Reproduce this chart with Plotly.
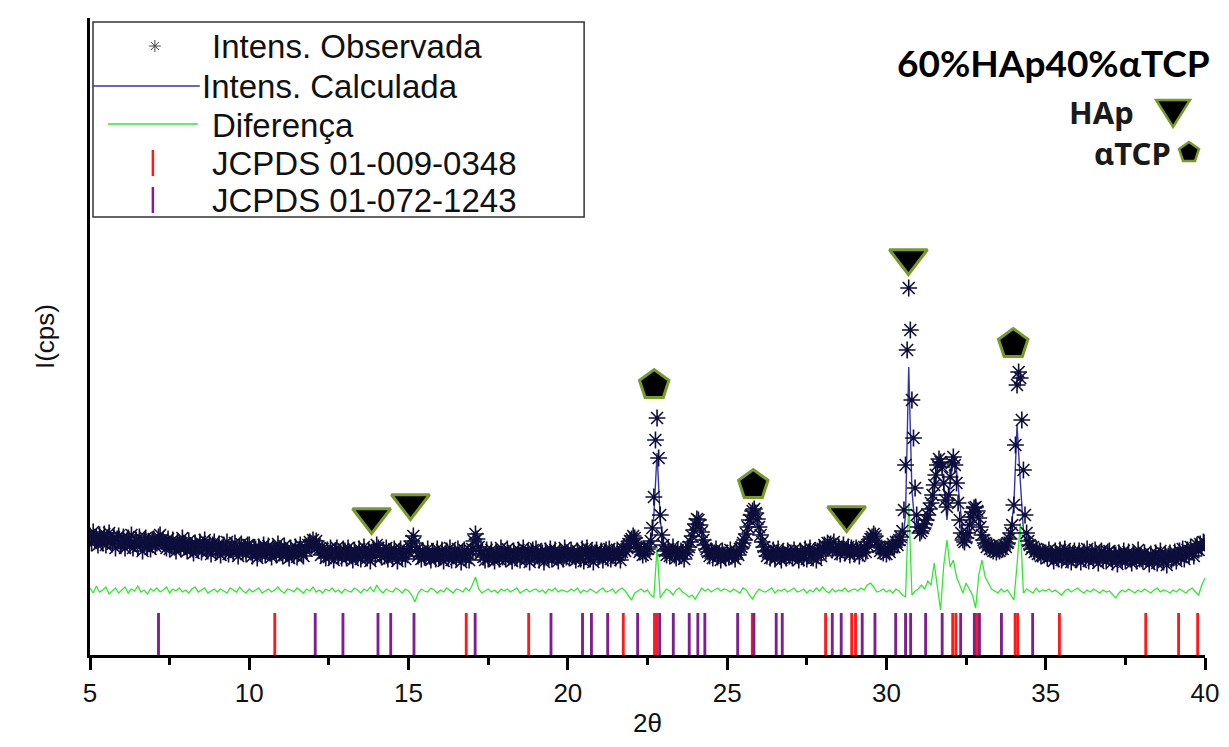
import numpy as np
import plotly.graph_objects as go

# observed intensity, 2theta = 5.00 .. 40.00 step 0.05 (one line per degree)
obs_intensity = [
    119, 112, 123, 114, 118, 110, 120, 116, 112, 121, 110, 117, 122, 114, 111, 118, 107, 116, 119, 111,
    111, 118, 107, 114, 117, 110, 120, 107, 112, 115, 108, 118, 111, 104, 114, 117, 108, 113, 106, 115,
    116, 109, 112, 118, 120, 114, 113, 111, 107, 116, 106, 110, 115, 108, 104, 113, 111, 106, 117, 108,
    111, 104, 114, 106, 109, 102, 112, 108, 105, 113, 103, 110, 115, 107, 104, 111, 101, 110, 113, 105,
    104, 111, 100, 107, 110, 103, 113, 101, 106, 109, 102, 112, 105, 99, 108, 111, 103, 107, 101, 110,
    110, 103, 99, 107, 106, 97, 108, 105, 101, 110, 100, 104, 109, 102, 98, 107, 105, 100, 111, 102,
    106, 99, 109, 101, 104, 97, 107, 103, 100, 108, 98, 105, 110, 102, 99, 108, 104, 110, 113, 109,
    115, 111, 114, 108, 106, 100, 106, 102, 97, 105, 98, 107, 101, 95, 104, 107, 99, 103, 97, 106,
    104, 97, 107, 99, 102, 95, 105, 101, 98, 106, 96, 103, 108, 100, 97, 104, 94, 103, 106, 98,
    110, 107, 104, 98, 105, 99, 107, 96, 101, 104, 97, 106, 100, 94, 103, 106, 98, 102, 96, 104,
    103, 108, 114, 119, 112, 105, 99, 103, 96, 104, 98, 101, 106, 99, 95, 103, 101, 96, 106, 98,
    98, 105, 94, 101, 104, 97, 107, 95, 100, 103, 96, 106, 99, 93, 102, 105, 97, 101, 95, 104,
    106, 114, 121, 116, 108, 101, 104, 98, 95, 105, 96, 100, 105, 98, 94, 103, 101, 96, 107, 98,
    103, 96, 106, 98, 101, 94, 104, 100, 97, 105, 95, 102, 107, 99, 96, 103, 93, 102, 105, 97,
    106, 99, 95, 103, 102, 93, 104, 101, 97, 106, 96, 100, 105, 98, 94, 103, 101, 96, 107, 98,
    102, 97, 105, 99, 101, 95, 104, 100, 96, 106, 94, 103, 107, 99, 96, 104, 93, 102, 105, 98,
    99, 104, 95, 102, 105, 97, 106, 96, 101, 103, 97, 105, 100, 95, 103, 106, 104, 108, 111, 114,
    116, 119, 117, 112, 107, 103, 106, 100, 104, 101, 106, 108, 114, 127, 158, 215, 237, 197, 140, 120,
    110, 104, 100, 106, 99, 103, 108, 100, 97, 105, 99, 104, 101, 96, 103, 105, 108, 113, 119, 125,
    131, 136, 135, 130, 123, 115, 110, 106, 103, 99, 104, 97, 102, 106, 98, 101, 95, 104, 100, 97,
    102, 98, 105, 99, 101, 96, 103, 100, 106, 108, 112, 115, 121, 128, 135, 140, 144, 146, 142, 136,
    128, 120, 113, 108, 104, 99, 103, 97, 101, 105, 96, 102, 106, 99, 95, 103, 100, 97, 104, 99,
    102, 97, 105, 100, 101, 95, 104, 101, 97, 106, 96, 103, 107, 100, 97, 104, 95, 103, 106, 99,
    106, 110, 104, 112, 108, 111, 105, 113, 107, 103, 108, 101, 106, 110, 102, 105, 108, 100, 107, 104,
    101, 107, 104, 99, 106, 102, 108, 103, 110, 113, 116, 118, 121, 119, 113, 108, 104, 107, 102, 106,
    101, 106, 103, 108, 111, 108, 113, 110, 115, 118, 124, 145, 190, 305, 367, 325, 255, 217, 167, 140,
    128, 122, 124, 127, 131, 135, 140, 146, 152, 160, 170, 180, 190, 196, 193, 188, 172, 155, 148, 160,
    178, 192, 198, 190, 172, 152, 135, 122, 115, 113, 117, 122, 130, 138, 143, 147, 148, 144, 137, 128,
    120, 115, 112, 108, 110, 106, 109, 104, 107, 103, 106, 104, 108, 106, 110, 108, 112, 116, 122, 130,
    150, 210, 270, 283, 277, 235, 185, 140, 122, 114, 110, 106, 108, 103, 106, 101, 104, 99, 103, 100,
    102, 97, 105, 99, 101, 94, 104, 100, 96, 105, 95, 102, 106, 98, 95, 103, 93, 101, 104, 97,
    97, 104, 93, 100, 103, 96, 106, 94, 99, 102, 95, 105, 98, 92, 101, 104, 96, 100, 94, 103,
    104, 97, 93, 101, 100, 91, 102, 99, 95, 104, 94, 98, 103, 96, 92, 101, 99, 94, 105, 96,
    99, 94, 102, 96, 98, 91, 101, 97, 94, 102, 92, 99, 104, 96, 93, 100, 90, 99, 102, 95,
    97, 103, 94, 100, 104, 98, 106, 96, 101, 105, 100, 108, 103, 99, 107, 110, 105, 111, 108, 113,
    112,
]

# calculated intensity and difference, 2theta = 5.0 .. 40.0 step 0.1
calc_intensity = [
    116, 115, 115, 115, 114, 114, 114, 113, 113, 113,
    113, 112, 112, 112, 112, 111, 111, 111, 111, 110,
    110, 111, 112, 111, 110, 110, 109, 109, 109, 108,
    108, 108, 108, 107, 107, 107, 107, 106, 106, 106,
    106, 106, 105, 105, 105, 105, 105, 104, 104, 104,
    104, 104, 104, 104, 103, 103, 103, 103, 103, 103,
    103, 103, 103, 103, 103, 103, 103, 103, 104, 106,
    109, 108, 105, 103, 102, 102, 102, 102, 102, 102,
    102, 102, 102, 102, 102, 101, 101, 101, 101, 101,
    105, 103, 101, 101, 101, 101, 101, 101, 101, 101,
    102, 110, 114, 104, 101, 100, 100, 100, 100, 100,
    100, 100, 100, 100, 100, 100, 100, 100, 100, 100,
    110, 118, 106, 101, 100, 100, 100, 100, 100, 100,
    100, 100, 100, 100, 100, 100, 100, 100, 100, 100,
    100, 100, 100, 100, 100, 100, 100, 100, 100, 100,
    100, 100, 100, 100, 100, 100, 100, 100, 100, 100,
    100, 100, 100, 100, 100, 100, 100, 101, 103, 107,
    113, 114, 108, 104, 102, 103, 108, 140, 202, 135,
    110, 104, 102, 102, 102, 102, 102, 104, 114, 118,
    128, 134, 126, 114, 106, 103, 102, 101, 101, 101,
    101, 101, 101, 101, 103, 108, 118, 132, 142, 138,
    125, 112, 105, 102, 101, 101, 101, 101, 101, 101,
    101, 101, 101, 101, 101, 101, 101, 102, 102, 102,
    103, 105, 107, 107, 106, 105, 104, 104, 104, 104,
    104, 104, 104, 105, 110, 116, 118, 112, 106, 104,
    104, 105, 106, 107, 109, 112, 140, 288, 165, 128,
    120, 121, 126, 134, 145, 162, 185, 200, 170, 135,
    170, 200, 185, 150, 122, 114, 118, 130, 155, 140,
    122, 112, 108, 106, 105, 105, 106, 107, 112, 125,
    150, 230, 175, 125, 110, 106, 104, 102, 101, 101,
    100, 100, 100, 100, 100, 100, 99, 99, 99, 99,
    99, 99, 99, 99, 98, 98, 98, 98, 98, 98,
    98, 99, 104, 99, 97, 97, 97, 97, 97, 97,
    97, 97, 97, 97, 97, 97, 97, 97, 97, 97,
    98, 98, 99, 99, 100, 101, 103, 105, 108, 110,
    112,
]

diff_intensity = [
    67, 62, 69, 63, 65, 68, 61, 64, 67, 62,
    65, 68, 62, 66, 64, 69, 63, 65, 61, 66,
    64, 67, 63, 65, 68, 62, 66, 64, 67, 63,
    65, 62, 66, 68, 63, 65, 67, 62, 64, 66,
    63, 66, 64, 62, 67, 65, 63, 68, 64, 62,
    66, 63, 65, 67, 62, 64, 66, 63, 65, 68,
    64, 62, 66, 65, 63, 67, 64, 62, 66, 64,
    68, 63, 65, 62, 66, 64, 67, 63, 65, 62,
    66, 64, 63, 67, 65, 62, 66, 64, 68, 63,
    70, 65, 62, 66, 64, 63, 67, 65, 62, 66,
    64, 60, 53, 62, 66, 64, 63, 67, 65, 62,
    65, 63, 67, 64, 62, 66, 65, 63, 67, 64,
    70, 78, 66, 62, 64, 66, 63, 65, 62, 66,
    64, 66, 63, 65, 67, 62, 64, 66, 63, 65,
    66, 63, 65, 62, 66, 64, 67, 63, 65, 64,
    63, 66, 64, 67, 62, 65, 63, 66, 64, 62,
    65, 67, 63, 64, 66, 62, 65, 67, 64, 60,
    55, 62, 64, 66, 63, 65, 60, 58, 107, 57,
    62, 66, 64, 60, 65, 67, 63, 61, 58, 60,
    56, 62, 67, 64, 66, 63, 65, 67, 64, 66,
    65, 63, 66, 64, 62, 67, 65, 60, 56, 62,
    66, 64, 63, 65, 67, 62, 65, 64, 66, 63,
    65, 67, 63, 64, 66, 62, 65, 63, 67, 64,
    68, 64, 62, 66, 63, 65, 64, 67, 63, 65,
    66, 64, 67, 65, 70, 72, 68, 63, 64, 66,
    63, 65, 62, 66, 64, 60, 58, 152, 60, 64,
    66, 70, 66, 74, 70, 92, 68, 45, 90, 115,
    88, 95, 78, 70, 62, 72, 66, 60, 47, 80,
    95, 78, 72, 66, 64, 62, 66, 63, 65, 60,
    55, 90, 132, 62, 66, 64, 62, 67, 63, 65,
    64, 66, 63, 65, 62, 60, 64, 66, 63, 65,
    67, 64, 62, 65, 63, 66, 64, 62, 65, 63,
    64, 60, 57, 62, 65, 63, 66, 64, 62, 65,
    63, 66, 64, 62, 65, 67, 63, 65, 64, 62,
    65, 63, 66, 64, 62, 65, 67, 63, 60, 70,
    77,
]

two_theta_obs = np.round(5 + 0.05 * np.arange(len(obs_intensity)), 2)
two_theta_calc = np.round(5 + 0.1 * np.arange(len(calc_intensity)), 2)

# reference pattern positions (2theta)
jcpds_009_0348 = [10.80, 16.81, 18.77, 21.74, 22.72, 22.79, 25.79, 28.09, 28.91, 29.03,
                  32.08, 32.18, 32.83, 34.04, 34.12, 35.43, 38.14, 39.17, 39.77]
jcpds_072_1243 = [7.15, 12.07, 12.94, 14.04, 14.44, 15.17, 17.09, 19.47, 20.46, 20.74,
                  21.25, 22.19, 22.88, 23.31, 23.81, 24.08, 24.30, 25.33, 25.84, 26.54,
                  26.73, 28.30, 28.58, 29.24, 29.64, 30.29, 30.60, 30.76, 31.23, 31.75,
                  32.33, 32.76, 32.92, 33.61, 34.59]

# phase labels above peaks
hap_peaks = [13.84, 15.06, 28.75, 30.69]
hap_label_y = [138, 152, 140, 397]
tcp_peaks = [22.71, 25.82, 33.98]
tcp_label_y = [270, 170, 311]

TICK_H = 42
OLIVE = "#7a9a28"
FONT = "Arial, Liberation Sans, sans-serif"

# the page body adds an 8 px offset, so the figure is drawn 8 px smaller
PAGE_OFF = 8


def px(x):
    return (x - 90) / 1117


def py(y):
    return (655 - y) / 637


def poly(pts):
    return "M " + " L ".join(f"{px(a):.5f},{py(b):.5f}" for a, b in pts) + " Z"


fig = go.Figure()

fig.add_trace(go.Bar(x=jcpds_009_0348, y=[TICK_H] * len(jcpds_009_0348), width=0.09,
                     marker=dict(color="#ff1a1a", line_width=0)))
fig.add_trace(go.Bar(x=jcpds_072_1243, y=[TICK_H] * len(jcpds_072_1243), width=0.09,
                     marker=dict(color="#7d1f8e", line_width=0)))
fig.add_trace(go.Scatter(x=two_theta_calc, y=diff_intensity, mode="lines",
                         line=dict(color="#33e633", width=1.3)))
fig.add_trace(go.Scatter(x=two_theta_calc, y=calc_intensity, mode="lines",
                         line=dict(color="#3535a8", width=1.4)))
fig.add_trace(go.Scatter(x=two_theta_obs, y=obs_intensity, mode="markers",
                         marker=dict(symbol="asterisk-open", size=14, color="#0e0e3c",
                                     line=dict(width=1.6))))
fig.add_trace(go.Scatter(x=hap_peaks, y=hap_label_y, mode="markers",
                         marker=dict(symbol="triangle-down", size=33, color="black",
                                     line=dict(color=OLIVE, width=3))))
fig.add_trace(go.Scatter(x=tcp_peaks, y=tcp_label_y, mode="markers",
                         marker=dict(symbol="pentagon", size=31, color="black",
                                     line=dict(color=OLIVE, width=3))))

# hand-built legend
shapes = [
    dict(type="rect", xref="paper", yref="paper", x0=px(93), y0=py(22), x1=px(585), y1=py(217),
         line=dict(color="#333", width=1.5), fillcolor="white"),
    dict(type="line", xref="paper", yref="paper", x0=px(93), y0=py(86), x1=px(200), y1=py(86),
         line=dict(color="#3535a8", width=1.3)),
    dict(type="line", xref="paper", yref="paper", x0=px(108), y0=py(124), x1=px(198), y1=py(124),
         line=dict(color="#33e633", width=1.3)),
    dict(type="line", xref="paper", yref="paper", x0=px(153), y0=py(150), x1=px(153), y1=py(176),
         line=dict(color="#ff1a1a", width=2.5)),
    dict(type="line", xref="paper", yref="paper", x0=px(153), y0=py(187), x1=px(153), y1=py(213),
         line=dict(color="#7d1f8e", width=2.5)),
    dict(type="path", xref="paper", yref="paper",
         path=(f"M {px(149):.5f},{py(46):.5f} L {px(161):.5f},{py(46):.5f} "
               f"M {px(155):.5f},{py(40):.5f} L {px(155):.5f},{py(52):.5f} "
               f"M {px(151):.5f},{py(42):.5f} L {px(159):.5f},{py(50):.5f} "
               f"M {px(151):.5f},{py(50):.5f} L {px(159):.5f},{py(42):.5f}"),
         line=dict(color="#444", width=1)),
    dict(type="path", xref="paper", yref="paper",
         path=poly([(1158, 100), (1192, 100), (1175, 127)]),
         fillcolor="black", line=dict(color=OLIVE, width=2.5)),
    dict(type="path", xref="paper", yref="paper",
         path=poly([(1191, 142), (1201, 149), (1197, 161), (1185, 161), (1181, 149)]),
         fillcolor="black", line=dict(color=OLIVE, width=2.5)),
]
for s in shapes:
    s["layer"] = "above"


def label(text, x, y, size, xanchor="left", family=FONT, color="#111", **kw):
    return dict(text=text, x=px(x), y=py(y), xref="paper", yref="paper",
                xanchor=xanchor, yanchor="middle", showarrow=False,
                font=dict(family=family, size=size, color=color), **kw)


legend_rows = [
    ("Intens. Observada", 210, 47),
    ("Intens. Calculada", 200, 86),
    ("Diferença", 210, 125),
    ("JCPDS 01-009-0348", 210, 163),
    ("JCPDS 01-072-1243", 210, 200),
]
annotations = [label(t, x, y, 33) for t, x, y in legend_rows]
annotations += [
    label("I(cps)", 45, 337, 26, xanchor="center", textangle=-90),
    label("2θ", 648, 723, 26, xanchor="center"),
    label("<b>60%HAp40%αTCP</b>", 1214, 62, 37, xanchor="right",
          family="Lato, Open Sans, sans-serif", color="black"),
    label("<b>HAp</b>", 1138, 112, 31, xanchor="right",
          family="Noto Sans, sans-serif", color="#1a1a1a"),
    label("<b>αTCP</b>", 1175, 153, 31, xanchor="right",
          family="Noto Sans, sans-serif", color="#1a1a1a"),
]

fig.update_layout(
    width=1229 - PAGE_OFF,
    height=747 - PAGE_OFF,
    margin=dict(l=90 - PAGE_OFF, r=22, t=18 - PAGE_OFF, b=92),
    paper_bgcolor="white",
    plot_bgcolor="white",
    showlegend=False,
    barmode="overlay",
    shapes=shapes,
    annotations=annotations,
    xaxis=dict(
        range=[5, 40],
        tickvals=[5, 10, 15, 20, 25, 30, 35, 40],
        ticks="outside",
        ticklen=12,
        tickwidth=2.5,
        tickcolor="black",
        ticklabelstandoff=1,
        tickfont=dict(family=FONT, size=26, color="#111"),
        minor=dict(tickvals=[7.5, 12.5, 17.5, 22.5, 27.5, 32.5, 37.5], ticks="outside",
                   ticklen=7, tickwidth=2.5, tickcolor="black"),
        showline=True,
        linecolor="black",
        linewidth=2.5,
        showgrid=False,
        zeroline=False,
    ),
    yaxis=dict(
        range=[0, 637],
        showticklabels=False,
        ticks="",
        showline=True,
        linecolor="black",
        linewidth=2.5,
        showgrid=False,
        zeroline=False,
    ),
)

fig.write_html("out.html")
